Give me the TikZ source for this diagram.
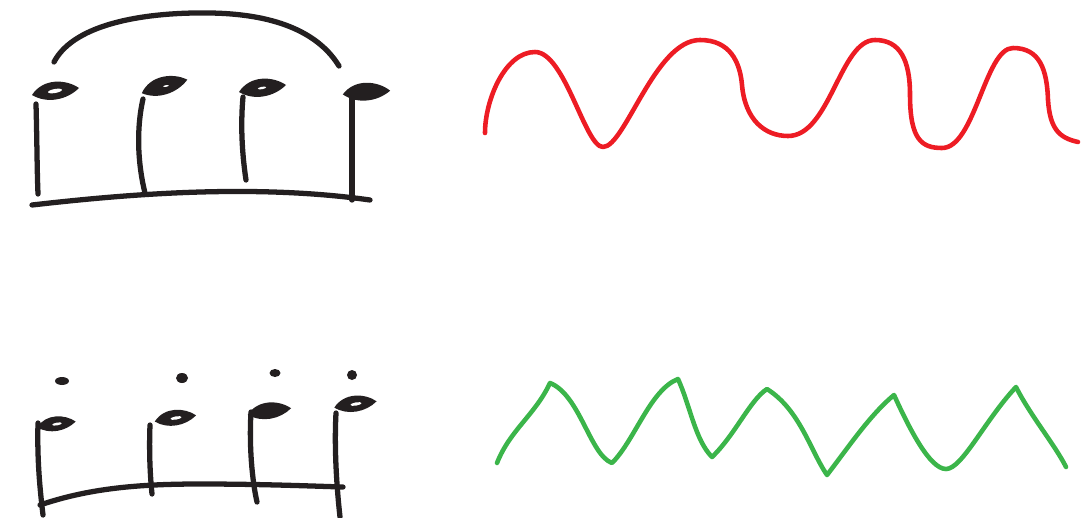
\documentclass[tikz,border=0pt]{standalone}
\usepackage{tikz}
\definecolor{inkblack}{HTML}{231F20}
\definecolor{wavered}{HTML}{ED1C24}
\definecolor{wavegreen}{HTML}{3BB54A}

\begin{document}
\begin{tikzpicture}[
  x=0.02cm, y=-0.02cm,
  ink/.style = {draw=inkblack, line width=3pt, line cap=round},
  wave/.style = {line width=2.6pt, line cap=round, line join=round},
  head/.pic = {\fill[inkblack] (-23,4) .. controls (-12,-13) and (11,-12) .. (24,-3)
                 .. controls (12,9) and (-8,13) .. (-23,4) -- cycle;},
  shine/.pic = {\fill[white, rotate=10] (0,0) ellipse [x radius=7, y radius=2];},
]
\useasboundingbox (0,0) rectangle (1084,517);

% Legato notes
\draw[ink] (54,62) .. controls (75,22) and (150,12) .. (210,13)
  .. controls (280,14) and (320,35) .. (339,66);
\draw[ink] (36,104) .. controls (37,140) and (37,170) .. (38,194);
\draw[ink] (143,99) .. controls (136,130) and (138,165) .. (145,193);
\draw[ink] (243,97) .. controls (240,130) and (243,160) .. (246,180);
\draw[ink] (352,96) -- (352,200);
\draw[ink] (32,205) .. controls (120,195) and (250,183) .. (370,200);
\pic at (55,91) {head};
\pic at (55,91) {shine};
\pic[rotate=8] at (164,86) {head};
\pic[scale=0.4] at (166,86) {shine};
\pic at (262,88) {head};
\pic[scale=0.6] at (262,88) {shine};
\pic[rotate=-4] at (366,92) {head};

% Staccato notes
\draw[ink] (38,423) .. controls (37,460) and (40,490) .. (43,515);
\draw[ink] (150,425) .. controls (149,450) and (150,475) .. (152,494);
\draw[ink] (251,412) .. controls (249,445) and (252,480) .. (257,502);
\draw[ink] (336,413) .. controls (334,450) and (337,490) .. (340,517);
\draw[ink] (40,505) .. controls (90,488) and (140,484) .. (200,484)
  .. controls (260,484) and (310,486) .. (343,487);
\pic[scale=0.82] at (56,424) {head};
\pic[scale=0.7] at (57,424) {shine};
\pic[scale=0.88] at (175,418) {head};
\pic[scale=0.8] at (176,418) {shine};
\pic[scale=0.92] at (269,411) {head};
\pic[scale=0.9] at (355,404) {head};
\pic[scale=0.8] at (356,404) {shine};
\fill[inkblack] (62,381) ellipse [x radius=7, y radius=4];
\fill[inkblack] (182,378) ellipse [x radius=6, y radius=5];
\fill[inkblack] (275,373) ellipse [x radius=5.5, y radius=4];
\fill[inkblack] (352,375) ellipse [x radius=5, y radius=5];

% Sine-like wave
\draw[wave, wavered] (485,133) .. controls (485,100) and (505,52) .. (535,52)
  .. controls (565,52) and (585,147) .. (603,147)
  .. controls (625,147) and (655,40) .. (700,40)
  .. controls (730,40) and (740,62) .. (742,85)
  .. controls (745,120) and (765,136) .. (788,136)
  .. controls (830,136) and (840,40) .. (875,40)
  .. controls (900,40) and (910,60) .. (910,95)
  .. controls (910,140) and (922,148) .. (942,148)
  .. controls (975,148) and (985,48) .. (1013,48)
  .. controls (1040,48) and (1047,70) .. (1048,100)
  .. controls (1050,130) and (1060,138) .. (1078,142);

% Triangle-like wave
\draw[wave, wavegreen] (497,463) .. controls (510,430) and (535,415) .. (550,383)
  .. controls (580,395) and (590,455) .. (612,463)
  .. controls (635,440) and (650,390) .. (678,379)
  .. controls (690,405) and (695,440) .. (712,457)
  .. controls (735,435) and (750,400) .. (767,389)
  .. controls (800,410) and (810,450) .. (827,475)
  .. controls (850,445) and (870,415) .. (894,395)
  .. controls (910,430) and (930,469) .. (946,469)
  .. controls (962,469) and (985,420) .. (1016,387)
  .. controls (1030,415) and (1055,445) .. (1066,467);
\end{tikzpicture}
\end{document}
